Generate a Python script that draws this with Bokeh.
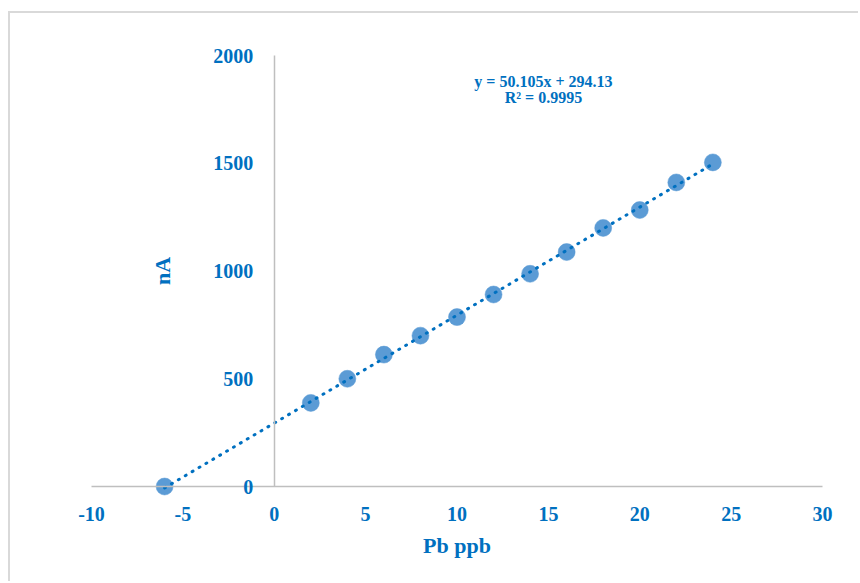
from bokeh.plotting import figure
from bokeh.models import FixedTicker, Range1d, Label
from bokeh.embed import file_html
from bokeh.resources import INLINE

# ---- data ----
x_ppb = [-6, 2, 4, 6, 8, 10, 12, 14, 16, 18, 20, 22, 24]
y_na = [0, 388, 500, 612, 700, 786, 891, 987, 1088, 1200, 1283, 1411, 1504]
slope = 50.105
intercept = 294.13
r_squared = 0.9995
x_ticks = [-10, -5, 0, 5, 10, 15, 20, 25, 30]
x_tick_labels = ["-10", "-5", "0", "5", "10", "15", "20", "25", "30"]
y_ticks = [0, 500, 1000, 1500, 2000]
y_tick_labels = ["0", "500", "1000", "1500", "2000"]

BLUE = "#0070C0"
MARK = "#5B9BD5"
AXIS = "#BFBFBF"
FONT = "Liberation Serif"

p = figure(width=850, height=570,
           x_range=Range1d(-14.432, 32.079), y_range=Range1d(-450.1, 2194.9),
           output_backend="svg", toolbar_location=None,
           min_border_left=0, min_border_right=0,
           min_border_top=0, min_border_bottom=0,
           margin=(11, 0, 0, 8),
           styles={"border-left": "2px solid #D9D9D9",
                   "border-top": "2px solid #D9D9D9"})
p.outline_line_color = None
p.background_fill_color = "white"
p.border_fill_color = "white"
p.xgrid.visible = False
p.ygrid.visible = False

# axes
xa = p.xaxis[0]
xa.fixed_location = 0
xa.bounds = (-10, 30)
xa.ticker = FixedTicker(ticks=x_ticks)
xa.major_label_overrides = {t: l for t, l in zip(x_ticks, x_tick_labels)}
xa.axis_line_color = AXIS
xa.axis_line_width = 1.5
xa.major_tick_line_color = None
xa.minor_tick_line_color = None
xa.major_label_standoff = 14
xa.major_label_text_font = FONT
xa.major_label_text_font_style = "bold"
xa.major_label_text_font_size = "20px"
xa.major_label_text_color = BLUE
xa.axis_label = "Pb ppb"
xa.axis_label_standoff = 9
xa.axis_label_text_font = FONT
xa.axis_label_text_font_style = "bold"
xa.axis_label_text_font_size = "22px"
xa.axis_label_text_color = BLUE

ya = p.yaxis[0]
ya.fixed_location = 0
ya.bounds = (0, 2000)
ya.ticker = FixedTicker(ticks=y_ticks)
ya.major_label_overrides = {t: l for t, l in zip(y_ticks, y_tick_labels)}
ya.axis_line_color = AXIS
ya.axis_line_width = 1.5
ya.major_tick_line_color = None
ya.minor_tick_line_color = None
ya.major_label_standoff = 15
ya.major_label_text_font = FONT
ya.major_label_text_font_style = "bold"
ya.major_label_text_font_size = "20px"
ya.major_label_text_color = BLUE
ya.axis_label = "nA"
ya.axis_label_standoff = 36
ya.axis_label_text_font = FONT
ya.axis_label_text_font_style = "bold"
ya.axis_label_text_font_size = "22px"
ya.axis_label_text_color = BLUE

# points
p.scatter(x_ppb, y_na, size=17, fill_color=MARK, line_color=MARK, line_width=0.5)

# linear trendline
tx = [min(x_ppb), max(x_ppb)]
ty = [slope * v + intercept for v in tx]
p.line(tx, ty, line_color=BLUE, line_width=3, line_dash="1 7", line_cap="round")

# equation
eq1 = Label(x=14.73, y=1880, text=f"y = {slope}x + {intercept}",
            text_align="center", text_baseline="middle",
            text_font=FONT, text_font_style="bold", text_font_size="16px",
            text_color=BLUE)
eq2 = Label(x=14.73, y=1805, text=f"R\u00b2 = {r_squared}",
            text_align="center", text_baseline="middle",
            text_font=FONT, text_font_style="bold", text_font_size="16px",
            text_color=BLUE)
p.add_layout(eq1)
p.add_layout(eq2)

open("out.html", "w").write(file_html(p, INLINE))
